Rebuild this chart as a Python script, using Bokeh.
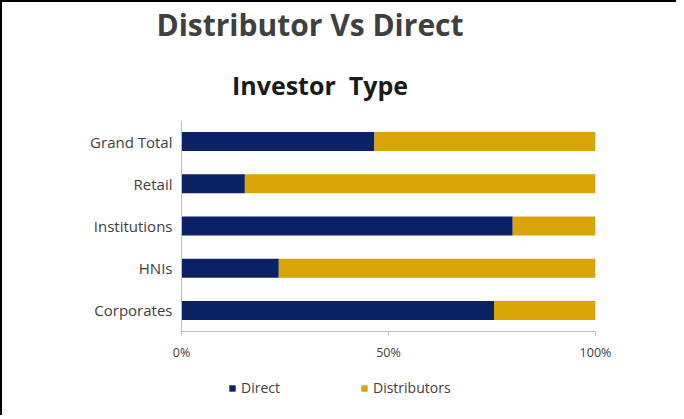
from bokeh.plotting import figure
from bokeh.layouts import column
from bokeh.models import (FactorRange, Range1d, FixedTicker, Div,
                          Legend, LegendItem, CustomJSTickFormatter)
from bokeh.embed import file_html
from bokeh.resources import INLINE

categories = ["Corporates", "HNIs", "Institutions", "Retail", "Grand Total"]
direct = [75.5, 23.5, 80.0, 15.3, 46.6]
distributors = [24.5, 76.5, 20.0, 84.7, 53.4]
x_ticks = [0, 50, 100]
series = ["Direct", "Distributors"]
colors = ["#0b2266", "#d8a406"]
main_title = "Distributor Vs Direct"
sub_title = "Investor  Type"

FONT = "Open Sans"
BORDER = "2px solid black"

# ---- title strip (HTML text)
title_html = (
    '<div style="position:relative;width:676px;height:120px;">'
    '<div style="position:absolute;left:0;top:5px;width:616px;text-align:center;'
    "font-family:'Open Sans';font-weight:bold;font-size:30px;line-height:36px;"
    'color:#404040;white-space:pre;">' + main_title + '</div>'
    '<div style="position:absolute;left:0;top:68px;width:636px;text-align:center;'
    "font-family:'Open Sans';font-weight:bold;font-size:25px;line-height:30px;"
    'color:#1a1a1a;white-space:pre;">' + sub_title + '</div>'
    '</div>'
)
t = Div(text=title_html, width=676, height=120, margin=0,
        styles={"border-left": BORDER, "border-top": BORDER})

# ---- main chart
p = figure(frame_width=412, frame_height=211, output_backend="svg", toolbar_location=None,
           y_range=FactorRange(*categories), x_range=Range1d(0, 100),
           min_border_left=179, min_border_right=85, min_border_top=0,
           min_border_bottom=40, title=None)
p.styles = {"border-left": BORDER}

p.hbar_stack(series, y="cat", height=0.45, color=colors,
             source=dict(cat=categories, Direct=direct, Distributors=distributors),
             line_color=None)

p.xgrid.visible = False
p.ygrid.visible = False
p.outline_line_color = None

p.xaxis.ticker = FixedTicker(ticks=x_ticks)
p.xaxis.formatter = CustomJSTickFormatter(code="return tick + '%';")
p.xaxis.minor_tick_line_color = None
p.xaxis.major_tick_out = 4
p.xaxis.major_tick_in = 0
p.xaxis.major_label_standoff = 8
p.xaxis.axis_line_color = "#bfbfbf"
p.xaxis.major_tick_line_color = "#bfbfbf"
p.xaxis.major_label_text_font_size = "12.5px"

p.yaxis.major_tick_line_color = None
p.yaxis.major_tick_out = 0
p.yaxis.major_tick_in = 0
p.yaxis.major_label_standoff = 9
p.yaxis.axis_line_color = "#bfbfbf"
p.yaxis.major_label_text_font_size = "15px"

for ax in (p.xaxis[0], p.yaxis[0]):
    ax.major_label_text_font = FONT
    ax.major_label_text_color = "#404040"

# ---- legend strip (renderers hidden; legend only)
lg = figure(width=676, height=44, output_backend="svg", toolbar_location=None,
            x_axis_type=None, y_axis_type=None, min_border=0, title=None,
            y_range=FactorRange(*categories), x_range=Range1d(0, 100))
lg.outline_line_color = None
lg.grid.visible = False
lg.styles = {"border-left": BORDER}
lr = lg.hbar_stack(series, y="cat", height=0.45, color=colors,
                   source=dict(cat=categories, Direct=direct, Distributors=distributors),
                   line_color=None)
for rr in lr:
    rr.visible = False
legend = Legend(items=[LegendItem(label=s, renderers=[rr]) for s, rr in zip(series, lr)],
                location=(47, 18), orientation="horizontal",
                glyph_width=8, glyph_height=8, label_standoff=5,
                spacing=80, padding=0, margin=0, border_line_color=None,
                background_fill_alpha=0, inactive_fill_alpha=0,
                label_text_font=FONT, click_policy="none",
                label_text_font_size="14px", label_text_color="#404040")
lg.add_layout(legend, "center")

layout = column(t, p, lg, spacing=0)
open("out.html", "w").write(file_html(layout, INLINE))
